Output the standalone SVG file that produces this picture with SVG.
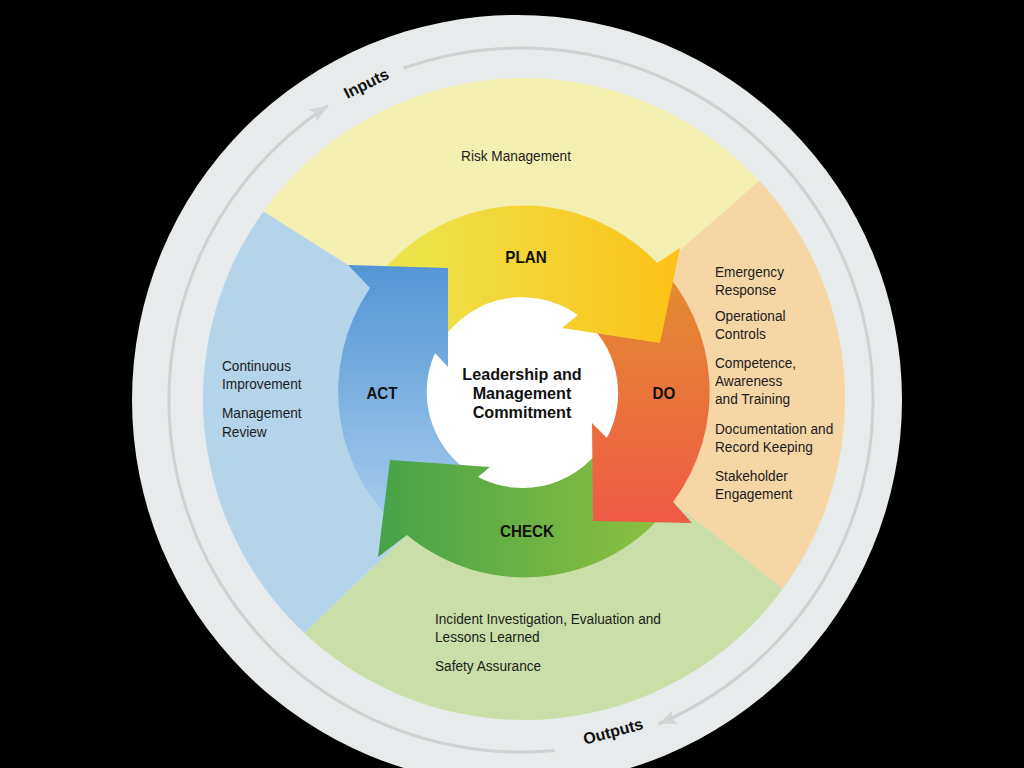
<svg xmlns="http://www.w3.org/2000/svg" width="1024" height="768" viewBox="0 0 1024 768">
<defs>
<style>
.t{font-family:"Liberation Sans",Arial,sans-serif;font-size:15px;fill:#1c1c1c}
.b{font-family:"Liberation Sans",Arial,sans-serif;font-weight:bold;fill:#111}
.ring{fill:none;stroke:#cdd1d1;stroke-width:3}
</style>
<clipPath id="disc"><circle cx="524" cy="399" r="321"/></clipPath>
<linearGradient id="gPlan" gradientUnits="userSpaceOnUse" x1="390" y1="0" x2="680" y2="0"><stop offset="0" stop-color="#ece54e"/><stop offset="1" stop-color="#fcc217"/></linearGradient>
<linearGradient id="gDo" gradientUnits="userSpaceOnUse" x1="0" y1="263" x2="0" y2="523"><stop offset="0" stop-color="#e38e2f"/><stop offset="1" stop-color="#ef5a46"/></linearGradient>
<linearGradient id="gCheck" gradientUnits="userSpaceOnUse" x1="378" y1="0" x2="690" y2="0"><stop offset="0" stop-color="#47a249"/><stop offset="1" stop-color="#93c43f"/></linearGradient>
<linearGradient id="gAct" gradientUnits="userSpaceOnUse" x1="0" y1="265" x2="0" y2="540"><stop offset="0" stop-color="#5395d4"/><stop offset="1" stop-color="#acd0ef"/></linearGradient>
<marker id="ah" markerUnits="userSpaceOnUse" markerWidth="20" markerHeight="14" refX="18" refY="7" orient="auto"><path d="M0,0 L18,7 L0,14 L4,7 z" fill="#d0d4d4"/></marker>
</defs>
<rect width="1024" height="768" fill="#000"/>
<circle id="outer-disc" cx="517" cy="400" r="385" fill="#e8ebeb"/>
<g id="sectors" clip-path="url(#disc)">
<polygon id="sector-plan" points="521,392 348,265 78,94 60,-50 980,-50 914,46 680,250" fill="#f2efb1"/>
<polygon id="sector-do" points="521,392 680,250 914,46 1020,150 1020,750 891,674 673,502" fill="#f6d6a5"/>
<polygon id="sector-check" points="521,392 673,502 891,674 900,900 150,900 193,739 407,535" fill="#c9dfa7"/>
<polygon id="sector-act" points="521,392 407,535 193,739 0,800 0,0 78,94 348,265" fill="#b4d4ea"/>
</g>
<g id="connectors">
<path class="ring" d="M403.5,68.2 A352,352 0 0 1 851.8,279.6 A352,352 0 0 1 658.5,724" marker-end="url(#ah)"/>
<path class="ring" d="M554.7,750.4 A352,352 0 0 1 190.2,520.4 A352,352 0 0 1 327.8,105.8" marker-end="url(#ah)"/>
</g>
<circle id="center-disc" cx="521" cy="393" r="98" fill="#fff"/>
<g id="shafts">
<path d="M370,288 A184,184 0 0 1 657,263 L578,315 A96,96 0 0 0 435,353 Z" fill="url(#gPlan)"/>
<path d="M657,263 A184,184 0 0 1 673,502 L607,438 A96,96 0 0 0 578,315 Z" fill="url(#gDo)"/>
<path d="M673,502 A184,184 0 0 1 407,535 L478,477 A96,96 0 0 0 607,438 Z" fill="url(#gCheck)"/>
<path d="M407,535 A184,184 0 0 1 370,288 L435,353 A96,96 0 0 0 478,477 Z" fill="url(#gAct)"/>
</g>
<g id="plan"><polygon points="655,261 657,263 680,248 660,343 562,328 578,315 576,313" fill="url(#gPlan)"/>
<text class="b" font-size="16" text-anchor="middle" transform="translate(526,263) scale(0.95,1)">PLAN</text></g>
<g id="do"><polygon points="674,500 673,502 692,523 593,521 592,423 607,438 608,436" fill="url(#gDo)"/>
<text class="b" font-size="16" text-anchor="middle" transform="translate(664,399) scale(0.95,1)">DO</text></g>
<g id="check"><polygon points="409,536 407,535 378,557 390,460 490,467 478,477 480,478" fill="url(#gCheck)"/>
<text class="b" font-size="16" text-anchor="middle" transform="translate(527,537) scale(0.95,1)">CHECK</text></g>
<g id="act"><polygon points="369,290 370,288 348,265 448,268 448,367 435,353 434,355" fill="url(#gAct)"/>
<text class="b" font-size="16" text-anchor="middle" transform="translate(382,399) scale(0.95,1)">ACT</text></g>
<g id="center" transform="translate(522,0) scale(0.95,1)">
<text class="b" font-size="17" text-anchor="middle" x="0" y="380">Leadership and</text>
<text class="b" font-size="17" text-anchor="middle" x="0" y="399">Management</text>
<text class="b" font-size="17" text-anchor="middle" x="0" y="418">Commitment</text>
</g>
<g id="risk" transform="translate(516,0) scale(0.91,1)">
<text class="t" text-anchor="middle" x="0" y="161">Risk Management</text>
</g>
<g id="do-items" transform="translate(715,0) scale(0.91,1)">
<text class="t" x="0" y="277">Emergency</text>
<text class="t" x="0" y="295">Response</text>
<text class="t" x="0" y="321">Operational</text>
<text class="t" x="0" y="339">Controls</text>
<text class="t" x="0" y="368">Competence,</text>
<text class="t" x="0" y="386">Awareness</text>
<text class="t" x="0" y="404">and Training</text>
<text class="t" x="0" y="434">Documentation and</text>
<text class="t" x="0" y="452">Record Keeping</text>
<text class="t" x="0" y="481">Stakeholder</text>
<text class="t" x="0" y="499">Engagement</text>
</g>
<g id="act-items" transform="translate(222,0) scale(0.91,1)">
<text class="t" x="0" y="371">Continuous</text>
<text class="t" x="0" y="389">Improvement</text>
<text class="t" x="0" y="418">Management</text>
<text class="t" x="0" y="437">Review</text>
</g>
<g id="check-items" transform="translate(435,0) scale(0.91,1)">
<text class="t" x="0" y="624">Incident Investigation, Evaluation and</text>
<text class="t" x="0" y="642">Lessons Learned</text>
<text class="t" x="0" y="671">Safety Assurance</text>
</g>
<g id="labels">
<text class="b" font-size="16" text-anchor="middle" transform="translate(366,83) rotate(-26.4)" y="6">Inputs</text>
<text class="b" font-size="16" text-anchor="middle" transform="translate(613,731) rotate(-15.2)" y="6">Outputs</text>
</g>
</svg>
